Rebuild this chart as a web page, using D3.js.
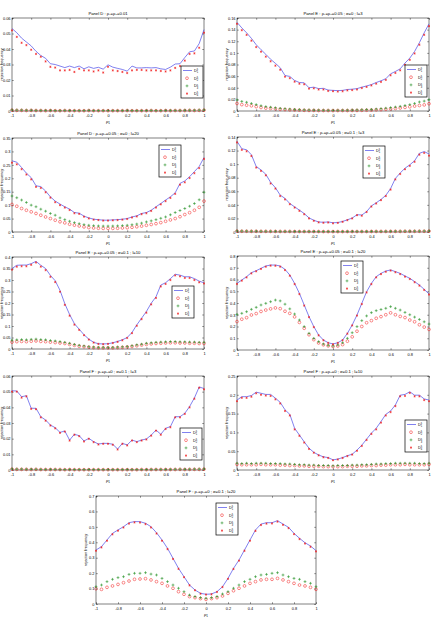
<!DOCTYPE html>
<html>
<head>
<meta charset="utf-8">
<script src="https://cdn.jsdelivr.net/npm/d3@7"></script>
<style>
  body { margin: 0; background: #fff; }
  svg { display: block; font-family: "Liberation Sans", Arial, sans-serif; }
</style>
</head>
<body>
<div id="chart"></div>
<script>
// x grid (rho_1)
var rho = [-1,-0.95,-0.9,-0.85,-0.8,-0.75,-0.7,-0.65,-0.6,-0.55,-0.5,-0.45,-0.4,-0.35,-0.3,-0.25,-0.2,-0.15,-0.1,-0.05,0,
           0.05,0.1,0.15,0.2,0.25,0.3,0.35,0.4,0.45,0.5,0.55,0.6,0.65,0.7,0.75,0.8,0.85,0.9,0.95,1];
var xTicks = [-1,-0.8,-0.6,-0.4,-0.2,0,0.2,0.4,0.6,0.8,1];

// panel 1
var p1D1 = [0.0532,0.0505,0.0470,0.0445,0.0420,0.0385,0.0358,0.0340,0.0305,0.0300,0.0290,0.0280,0.0290,0.0280,0.0290,0.0272,0.0285,0.0275,0.0282,0.0270,0.0298,0.0283,0.0275,0.0268,0.0257,0.0290,0.0278,0.0278,0.0280,0.0278,0.0280,0.0272,0.0268,0.0283,0.0303,0.0305,0.0345,0.0382,0.0387,0.0435,0.0525];
var p1D2 = [0.0005,0.0004,0.0004,0.0003,0.0004,0.0003,0.0003,0.0002,0.0003,0.0002,0.0002,0.0003,0.0002,0.0002,0.0002,0.0002,0.0003,0.0002,0.0002,0.0002,0.0002,0.0002,0.0002,0.0002,0.0003,0.0002,0.0002,0.0002,0.0002,0.0003,0.0002,0.0002,0.0003,0.0002,0.0003,0.0003,0.0003,0.0004,0.0003,0.0004,0.0005];
var p1D3 = [0.0007,0.0006,0.0006,0.0005,0.0005,0.0004,0.0004,0.0004,0.0004,0.0003,0.0003,0.0004,0.0003,0.0003,0.0003,0.0003,0.0004,0.0003,0.0003,0.0003,0.0003,0.0003,0.0003,0.0003,0.0004,0.0003,0.0003,0.0003,0.0003,0.0004,0.0003,0.0003,0.0004,0.0004,0.0004,0.0004,0.0005,0.0005,0.0005,0.0006,0.0007];
var p1D4 = [0.0520,0.0478,0.0440,0.0425,0.0395,0.0368,0.0350,0.0320,0.0285,0.0280,0.0262,0.0262,0.0265,0.0252,0.0272,0.0262,0.0262,0.0255,0.0262,0.0248,0.0285,0.0262,0.0258,0.0252,0.0245,0.0262,0.0265,0.0265,0.0262,0.0262,0.0262,0.0258,0.0255,0.0262,0.0278,0.0290,0.0325,0.0368,0.0372,0.0408,0.0505];
var p1Ticks = [0,0.01,0.02,0.03,0.04,0.05,0.06];

// panel 2
var p2D1 = [0.1525,0.1430,0.1345,0.1250,0.1140,0.1055,0.0975,0.0890,0.0820,0.0745,0.0610,0.0595,0.0525,0.0490,0.0485,0.0400,0.0410,0.0385,0.0390,0.0360,0.0355,0.0350,0.0355,0.0370,0.0375,0.0385,0.0410,0.0430,0.0455,0.0490,0.0520,0.0555,0.0640,0.0680,0.0725,0.0825,0.0910,0.1025,0.1175,0.1345,0.1500];
var p2D2 = [0.0130,0.0110,0.0100,0.0090,0.0075,0.0060,0.0050,0.0045,0.0038,0.0030,0.0025,0.0020,0.0018,0.0015,0.0012,0.0010,0.0010,0.0008,0.0008,0.0008,0.0007,0.0008,0.0008,0.0008,0.0010,0.0010,0.0012,0.0014,0.0016,0.0020,0.0024,0.0030,0.0036,0.0044,0.0052,0.0062,0.0072,0.0085,0.0095,0.0105,0.0125];
var p2D3 = [0.0190,0.0165,0.0150,0.0130,0.0110,0.0090,0.0075,0.0065,0.0055,0.0045,0.0038,0.0032,0.0028,0.0024,0.0020,0.0018,0.0016,0.0015,0.0014,0.0013,0.0012,0.0013,0.0014,0.0015,0.0017,0.0019,0.0022,0.0025,0.0028,0.0033,0.0040,0.0048,0.0058,0.0068,0.0080,0.0095,0.0110,0.0130,0.0155,0.0170,0.0195];
var p2D4 = [0.1500,0.1390,0.1310,0.1210,0.1100,0.1020,0.0935,0.0855,0.0780,0.0710,0.0590,0.0565,0.0505,0.0470,0.0460,0.0385,0.0390,0.0370,0.0370,0.0345,0.0340,0.0335,0.0340,0.0355,0.0360,0.0370,0.0395,0.0415,0.0440,0.0470,0.0500,0.0535,0.0615,0.0655,0.0700,0.0795,0.0880,0.0990,0.1140,0.1310,0.1460];
var p2Ticks = [0,0.02,0.04,0.06,0.08,0.1,0.12,0.14,0.16];

// panel 3
var p3D1 = [0.2650,0.2600,0.2400,0.2190,0.2025,0.1720,0.1690,0.1525,0.1310,0.1150,0.1040,0.0940,0.0850,0.0725,0.0700,0.0590,0.0525,0.0475,0.0460,0.0440,0.0440,0.0450,0.0460,0.0475,0.0500,0.0560,0.0600,0.0690,0.0725,0.0810,0.0940,0.1060,0.1190,0.1310,0.1460,0.1810,0.1900,0.2060,0.2250,0.2440,0.2775];
var p3D2 = [0.1025,0.0960,0.0875,0.0810,0.0750,0.0690,0.0625,0.0560,0.0500,0.0440,0.0380,0.0340,0.0290,0.0255,0.0225,0.0190,0.0165,0.0150,0.0140,0.0135,0.0135,0.0135,0.0140,0.0150,0.0160,0.0175,0.0195,0.0220,0.0250,0.0280,0.0310,0.0350,0.0400,0.0450,0.0500,0.0570,0.0650,0.0720,0.0810,0.0920,0.1150];
var p3D3 = [0.1340,0.1275,0.1190,0.1100,0.1000,0.0940,0.0850,0.0775,0.0690,0.0625,0.0525,0.0460,0.0400,0.0350,0.0310,0.0275,0.0250,0.0235,0.0225,0.0220,0.0220,0.0222,0.0228,0.0238,0.0250,0.0270,0.0295,0.0330,0.0375,0.0415,0.0460,0.0510,0.0560,0.0640,0.0725,0.0800,0.0875,0.0960,0.1060,0.1200,0.1480];
var p3D4 = [0.2580,0.2520,0.2340,0.2140,0.1960,0.1680,0.1640,0.1480,0.1280,0.1110,0.1000,0.0910,0.0820,0.0700,0.0675,0.0570,0.0505,0.0460,0.0445,0.0425,0.0425,0.0435,0.0445,0.0460,0.0485,0.0540,0.0580,0.0665,0.0700,0.0785,0.0910,0.1030,0.1150,0.1270,0.1420,0.1760,0.1850,0.2010,0.2190,0.2380,0.2720];
var p3Ticks = [0,0.05,0.1,0.15,0.2,0.25,0.3,0.35];

// panel 4
var p4D1 = [0.1336,0.1227,0.1212,0.1138,0.0965,0.0915,0.0851,0.0732,0.0653,0.0544,0.0495,0.0420,0.0371,0.0322,0.0272,0.0208,0.0173,0.0148,0.0143,0.0148,0.0136,0.0140,0.0155,0.0180,0.0205,0.0255,0.0250,0.0300,0.0385,0.0430,0.0480,0.0540,0.0640,0.0790,0.0870,0.0940,0.0990,0.1050,0.1160,0.1185,0.1150];
var p4D2 = [0.0012,0.0011,0.0011,0.0010,0.0010,0.0009,0.0009,0.0009,0.0008,0.0008,0.0008,0.0008,0.0007,0.0007,0.0007,0.0007,0.0007,0.0007,0.0006,0.0006,0.0006,0.0006,0.0006,0.0007,0.0007,0.0007,0.0007,0.0007,0.0008,0.0008,0.0008,0.0008,0.0009,0.0009,0.0009,0.0010,0.0010,0.0010,0.0011,0.0011,0.0012];
var p4D3 = [0.0016,0.0015,0.0014,0.0013,0.0013,0.0012,0.0012,0.0011,0.0011,0.0010,0.0010,0.0010,0.0009,0.0009,0.0009,0.0009,0.0008,0.0008,0.0008,0.0008,0.0008,0.0008,0.0008,0.0008,0.0009,0.0009,0.0009,0.0009,0.0010,0.0010,0.0010,0.0011,0.0011,0.0012,0.0012,0.0013,0.0013,0.0014,0.0014,0.0015,0.0016];
var p4D4 = [0.1320,0.1210,0.1190,0.1120,0.0950,0.0900,0.0835,0.0715,0.0640,0.0530,0.0480,0.0410,0.0360,0.0312,0.0262,0.0200,0.0165,0.0142,0.0136,0.0140,0.0128,0.0134,0.0150,0.0175,0.0200,0.0248,0.0240,0.0295,0.0375,0.0420,0.0470,0.0530,0.0625,0.0775,0.0855,0.0925,0.0975,0.1035,0.1140,0.1165,0.1125];
var p4Ticks = [0,0.02,0.04,0.06,0.08,0.1,0.12,0.14];

// panel 5
var p5D1 = [0.350,0.364,0.365,0.365,0.371,0.381,0.364,0.350,0.320,0.297,0.255,0.197,0.150,0.110,0.086,0.062,0.043,0.029,0.023,0.022,0.023,0.027,0.033,0.040,0.050,0.072,0.105,0.134,0.163,0.199,0.227,0.278,0.288,0.306,0.325,0.321,0.314,0.314,0.306,0.295,0.288];
var p5D2 = [0.030,0.032,0.033,0.032,0.034,0.035,0.033,0.032,0.030,0.028,0.026,0.024,0.020,0.016,0.012,0.010,0.008,0.006,0.005,0.005,0.005,0.005,0.006,0.007,0.009,0.011,0.014,0.017,0.020,0.022,0.024,0.025,0.026,0.027,0.027,0.026,0.026,0.025,0.025,0.024,0.024];
var p5D3 = [0.038,0.040,0.041,0.040,0.042,0.043,0.041,0.040,0.037,0.035,0.032,0.029,0.025,0.020,0.016,0.013,0.010,0.008,0.007,0.007,0.007,0.007,0.008,0.009,0.011,0.014,0.018,0.021,0.025,0.027,0.029,0.030,0.031,0.032,0.032,0.031,0.031,0.030,0.030,0.029,0.029];
var p5D4 = [0.345,0.358,0.360,0.360,0.366,0.376,0.358,0.343,0.314,0.291,0.249,0.192,0.145,0.106,0.083,0.060,0.041,0.028,0.022,0.021,0.022,0.026,0.031,0.038,0.048,0.069,0.101,0.130,0.158,0.194,0.222,0.272,0.283,0.300,0.320,0.316,0.309,0.309,0.300,0.290,0.285];
var p5Ticks = [0,0.05,0.1,0.15,0.2,0.25,0.3,0.35,0.4];

// panel 6
var p6D1 = [0.567,0.596,0.624,0.658,0.675,0.695,0.715,0.723,0.723,0.715,0.686,0.638,0.567,0.482,0.383,0.284,0.199,0.128,0.085,0.062,0.051,0.062,0.085,0.142,0.213,0.298,0.397,0.496,0.567,0.624,0.652,0.672,0.681,0.667,0.652,0.630,0.610,0.582,0.553,0.516,0.477];
var p6D2 = [0.242,0.262,0.275,0.298,0.310,0.328,0.340,0.350,0.358,0.352,0.330,0.312,0.282,0.235,0.185,0.130,0.088,0.060,0.044,0.035,0.030,0.034,0.046,0.075,0.112,0.160,0.200,0.232,0.250,0.270,0.284,0.300,0.316,0.300,0.286,0.276,0.255,0.240,0.215,0.195,0.175];
var p6D3 = [0.303,0.312,0.326,0.346,0.363,0.383,0.397,0.411,0.425,0.418,0.390,0.350,0.306,0.255,0.199,0.142,0.099,0.071,0.051,0.040,0.034,0.043,0.062,0.099,0.147,0.199,0.250,0.290,0.318,0.335,0.345,0.355,0.369,0.355,0.340,0.320,0.300,0.280,0.260,0.240,0.221];
var p6D4 = [0.562,0.590,0.618,0.652,0.670,0.690,0.709,0.718,0.717,0.709,0.680,0.632,0.561,0.476,0.378,0.280,0.195,0.125,0.083,0.060,0.049,0.060,0.083,0.139,0.209,0.293,0.391,0.490,0.561,0.618,0.646,0.666,0.676,0.662,0.646,0.624,0.604,0.577,0.548,0.511,0.472];
var p6Ticks = [0,0.1,0.2,0.3,0.4,0.5,0.6,0.7,0.8];

// panel 7
var p7D1 = [0.0506,0.0504,0.0468,0.0474,0.0394,0.0394,0.0340,0.0319,0.0287,0.0270,0.0240,0.0249,0.0191,0.0228,0.0219,0.0185,0.0202,0.0181,0.0166,0.0170,0.0170,0.0164,0.0134,0.0170,0.0160,0.0191,0.0181,0.0191,0.0198,0.0223,0.0255,0.0228,0.0266,0.0277,0.0340,0.0340,0.0362,0.0405,0.0460,0.0530,0.0520];
var p7D2 = [0.0005,0.0004,0.0004,0.0004,0.0003,0.0004,0.0003,0.0003,0.0003,0.0003,0.0003,0.0002,0.0003,0.0002,0.0002,0.0002,0.0002,0.0002,0.0002,0.0002,0.0002,0.0002,0.0002,0.0002,0.0002,0.0002,0.0002,0.0003,0.0002,0.0003,0.0003,0.0003,0.0003,0.0003,0.0003,0.0004,0.0003,0.0004,0.0004,0.0004,0.0005];
var p7D3 = [0.0007,0.0006,0.0006,0.0005,0.0005,0.0005,0.0004,0.0004,0.0004,0.0004,0.0003,0.0003,0.0003,0.0003,0.0003,0.0003,0.0003,0.0003,0.0003,0.0003,0.0003,0.0003,0.0003,0.0003,0.0003,0.0003,0.0003,0.0003,0.0003,0.0004,0.0004,0.0004,0.0004,0.0004,0.0005,0.0005,0.0005,0.0005,0.0006,0.0006,0.0007];
var p7D4 = [0.0500,0.0500,0.0462,0.0470,0.0390,0.0388,0.0336,0.0315,0.0284,0.0266,0.0237,0.0245,0.0188,0.0225,0.0216,0.0182,0.0199,0.0178,0.0163,0.0167,0.0167,0.0161,0.0131,0.0167,0.0157,0.0188,0.0178,0.0188,0.0195,0.0219,0.0251,0.0225,0.0262,0.0273,0.0336,0.0336,0.0358,0.0400,0.0455,0.0525,0.0515];
var p7Ticks = [0,0.01,0.02,0.03,0.04,0.05,0.06];

// panel 8
var p8D1 = [0.186,0.195,0.195,0.198,0.207,0.204,0.201,0.201,0.191,0.180,0.160,0.148,0.111,0.093,0.075,0.058,0.047,0.040,0.035,0.033,0.027,0.029,0.033,0.038,0.042,0.053,0.066,0.082,0.098,0.111,0.129,0.148,0.157,0.173,0.199,0.201,0.208,0.199,0.199,0.189,0.186];
var p8D2 = [0.015,0.014,0.014,0.014,0.014,0.015,0.014,0.014,0.014,0.013,0.013,0.012,0.012,0.011,0.011,0.010,0.010,0.010,0.009,0.009,0.009,0.009,0.009,0.010,0.010,0.010,0.011,0.011,0.012,0.012,0.013,0.013,0.014,0.014,0.014,0.015,0.014,0.014,0.014,0.014,0.015];
var p8D3 = [0.018,0.017,0.018,0.017,0.018,0.018,0.018,0.017,0.017,0.017,0.016,0.016,0.015,0.014,0.014,0.013,0.013,0.012,0.012,0.012,0.011,0.012,0.012,0.012,0.013,0.013,0.014,0.014,0.015,0.016,0.016,0.017,0.017,0.018,0.018,0.018,0.018,0.018,0.017,0.017,0.018];
var p8D4 = [0.183,0.192,0.192,0.195,0.204,0.200,0.198,0.197,0.188,0.177,0.157,0.145,0.108,0.091,0.073,0.056,0.046,0.039,0.034,0.032,0.026,0.028,0.032,0.037,0.041,0.051,0.064,0.080,0.096,0.108,0.126,0.145,0.154,0.170,0.196,0.197,0.205,0.196,0.196,0.186,0.183];
var p8Ticks = [0,0.05,0.1,0.15,0.2,0.25];

// panel 9
var p9D1 = [0.350,0.372,0.415,0.458,0.480,0.501,0.527,0.534,0.534,0.523,0.501,0.462,0.415,0.361,0.296,0.231,0.177,0.123,0.091,0.069,0.063,0.065,0.080,0.112,0.166,0.231,0.285,0.350,0.415,0.480,0.518,0.527,0.527,0.540,0.518,0.497,0.458,0.426,0.397,0.376,0.346];
var p9D2 = [0.099,0.095,0.108,0.117,0.127,0.138,0.149,0.160,0.162,0.164,0.156,0.145,0.134,0.117,0.102,0.080,0.063,0.048,0.041,0.035,0.030,0.035,0.041,0.052,0.069,0.086,0.102,0.117,0.134,0.145,0.156,0.160,0.160,0.166,0.156,0.145,0.134,0.123,0.117,0.108,0.095];
var p9D3 = [0.112,0.123,0.145,0.160,0.171,0.177,0.192,0.199,0.199,0.203,0.194,0.188,0.166,0.145,0.123,0.102,0.080,0.058,0.048,0.041,0.037,0.041,0.048,0.065,0.080,0.102,0.123,0.145,0.160,0.177,0.188,0.192,0.199,0.203,0.188,0.177,0.166,0.160,0.145,0.134,0.112];
var p9D4 = [0.345,0.367,0.410,0.452,0.475,0.496,0.521,0.529,0.528,0.518,0.496,0.457,0.410,0.356,0.292,0.228,0.174,0.121,0.089,0.067,0.061,0.063,0.078,0.110,0.163,0.227,0.281,0.345,0.410,0.474,0.512,0.521,0.522,0.534,0.513,0.492,0.453,0.421,0.392,0.371,0.341];
var p9Ticks = [0,0.1,0.2,0.3,0.4,0.5,0.6,0.7];

var titles = [
  "Panel D : \u03c1\u2081=\u03c1\u2082=0.01",
  "Panel E : \u03c1\u2081=\u03c1\u2082=0.05 ; \u03c3=0 ; l=3",
  "Panel D : \u03c1\u2081=\u03c1\u2082=0.05 ; \u03c3=0 ; l=20",
  "Panel E : \u03c1\u2081=\u03c1\u2082=0.05 ; \u03c3=0.1 ; l=3",
  "Panel E : \u03c1\u2081=\u03c1\u2082=0.05 ; \u03c3=0.1 ; l=10",
  "Panel E : \u03c1\u2081=\u03c1\u2082=0.05 ; \u03c3=0.1 ; l=20",
  "Panel F : \u03c1\u2081=\u03c1\u2082=0 ; \u03c3=0.1 ; l=3",
  "Panel F : \u03c1\u2081=\u03c1\u2082=0 ; \u03c3=0.1 ; l=10",
  "Panel F : \u03c1\u2081=\u03c1\u2082=0 ; \u03c3=0.1 ; l=20"
];

// layout: [left, right, top, bottom] and legend top-left
var panels = [
  {s:[p1D1,p1D2,p1D3,p1D4], ticks:p1Ticks, box:[12,204,18,111],  leg:[181,66]},
  {s:[p2D1,p2D2,p2D3,p2D4], ticks:p2Ticks, box:[237,429,18,111], leg:[405,65]},
  {s:[p3D1,p3D2,p3D3,p3D4], ticks:p3Ticks, box:[12,204,138,232], leg:[159,145]},
  {s:[p4D1,p4D2,p4D3,p4D4], ticks:p4Ticks, box:[237,429,137,232], leg:[363,146]},
  {s:[p5D1,p5D2,p5D3,p5D4], ticks:p5Ticks, box:[12,204,257,349], leg:[172,286]},
  {s:[p6D1,p6D2,p6D3,p6D4], ticks:p6Ticks, box:[237,429,256,350], leg:[341,261]},
  {s:[p7D1,p7D2,p7D3,p7D4], ticks:p7Ticks, box:[12,204,376,470], leg:[180,428]},
  {s:[p8D1,p8D2,p8D3,p8D4], ticks:p8Ticks, box:[237,429,376,470], leg:[405,420]},
  {s:[p9D1,p9D2,p9D3,p9D4], ticks:p9Ticks, box:[96,316,496,604], leg:[216,503]}
];

var blue = "#4a4ae8", red = "#f01818", green = "#168a16";
var fmt = function(v){ return String(+v.toFixed(4)); };
var plus = "M-1.4,0H1.4M0,-1.4V1.4";

var svg = d3.select("#chart").append("svg").attr("width", 434).attr("height", 617);

panels.forEach(function(p, k) {
  var x0 = p.box[0], x1 = p.box[1], y0 = p.box[2], y1 = p.box[3];
  var ymax = p.ticks[p.ticks.length-1];
  var x = d3.scaleLinear().domain([-1,1]).range([x0,x1]);
  var y = d3.scaleLinear().domain([0,ymax]).range([y1,y0]);
  var g = svg.append("g");

  // axes, ticks pointing inward like matlab
  var ax = function(sel){ sel.select(".domain").remove(); sel.selectAll("line").attr("stroke","#000").attr("stroke-width",0.4); sel.selectAll("text").attr("font-size",3.9).attr("fill","#000"); };
  g.append("g").attr("transform","translate(0,"+y1+")")
    .call(d3.axisBottom(x).tickValues(xTicks).tickFormat(fmt).tickSizeInner(-1.8).tickSizeOuter(0).tickPadding(3.5)).call(ax);
  g.append("g").attr("transform","translate(0,"+y0+")")
    .call(d3.axisTop(x).tickValues(xTicks).tickFormat("").tickSizeInner(-1.8).tickSizeOuter(0)).call(ax);
  g.append("g").attr("transform","translate("+x0+",0)")
    .call(d3.axisLeft(y).tickValues(p.ticks).tickFormat(fmt).tickSizeInner(-1.8).tickSizeOuter(0).tickPadding(1.5)).call(ax);
  g.append("g").attr("transform","translate("+x1+",0)")
    .call(d3.axisRight(y).tickValues(p.ticks).tickFormat("").tickSizeInner(-1.8).tickSizeOuter(0)).call(ax);
  g.append("rect").attr("x",x0).attr("y",y0).attr("width",x1-x0).attr("height",y1-y0)
    .attr("fill","none").attr("stroke","#000").attr("stroke-width",0.5);

  // labels
  g.append("text").attr("x",(x0+x1)/2).attr("y",y0-3.5).attr("text-anchor","middle")
    .attr("font-size",4.2).text(titles[k]);
  var xl = g.append("text").attr("x",(x0+x1)/2).attr("y",y1+11.5).attr("text-anchor","middle").attr("font-size",4.2).text("\u03c1");
  xl.append("tspan").attr("font-size",3).attr("dy",1).text("1");
  g.append("text").attr("transform","translate("+(x0-9.5)+","+((y0+y1)/2)+") rotate(-90)")
    .attr("text-anchor","middle").attr("font-size",3.8).text("rejection frequency");

  // series
  var line = d3.line().x(function(d,i){ return x(rho[i]); }).y(function(d){ return y(d); });
  g.append("path").datum(p.s[0]).attr("d",line).attr("fill","none").attr("stroke",blue).attr("stroke-width",0.7);

  g.selectAll(".c").data(p.s[1]).enter().append("circle")
    .attr("cx",function(d,i){ return x(rho[i]); }).attr("cy",function(d){ return y(d); })
    .attr("r",1.4).attr("fill","none").attr("stroke",red).attr("stroke-width",0.5);

  g.selectAll(".pl").data(p.s[2]).enter().append("path")
    .attr("transform",function(d,i){ return "translate("+x(rho[i])+","+y(d)+")"; })
    .attr("d",plus).attr("stroke",green).attr("stroke-width",0.55);

  var ast = d3.symbol(d3.symbolAsterisk).size(3.5);
  g.selectAll(".as").data(p.s[3]).enter().append("path")
    .attr("transform",function(d,i){ return "translate("+x(rho[i])+","+y(d)+")"; })
    .attr("d",ast).attr("fill","none").attr("stroke",red).attr("stroke-width",0.55);

  // legend
  var lx = p.leg[0], ly = p.leg[1], lw = 22, lh = 32;
  var lg = g.append("g");
  lg.append("rect").attr("x",lx).attr("y",ly).attr("width",lw).attr("height",lh)
    .attr("fill","#fff").attr("stroke","#000").attr("stroke-width",0.7);
  for (var j = 0; j < 4; j++) {
    var cy = ly + 4.5 + j*7.7, sx = lx + 6;
    if (j == 0) lg.append("line").attr("x1",lx+2).attr("x2",lx+11).attr("y1",cy).attr("y2",cy).attr("stroke",blue).attr("stroke-width",0.7);
    if (j == 1) lg.append("circle").attr("cx",sx).attr("cy",cy).attr("r",1.4).attr("fill","none").attr("stroke",red).attr("stroke-width",0.5);
    if (j == 2) lg.append("path").attr("transform","translate("+sx+","+cy+")").attr("d",plus).attr("stroke",green).attr("stroke-width",0.55);
    if (j == 3) lg.append("path").attr("transform","translate("+sx+","+cy+")").attr("d",ast).attr("fill","none").attr("stroke",red).attr("stroke-width",0.55);
    var t = lg.append("text").attr("x",lx+13).attr("y",cy+1.4).attr("font-size",3.8).text("D");
    t.append("tspan").attr("font-size",2.6).attr("dy",-1.6).text("s");
    t.append("tspan").attr("font-size",2.6).attr("dx",-1.4).attr("dy",3).text(j+1);
  }
});
</script>
</body>
</html>
